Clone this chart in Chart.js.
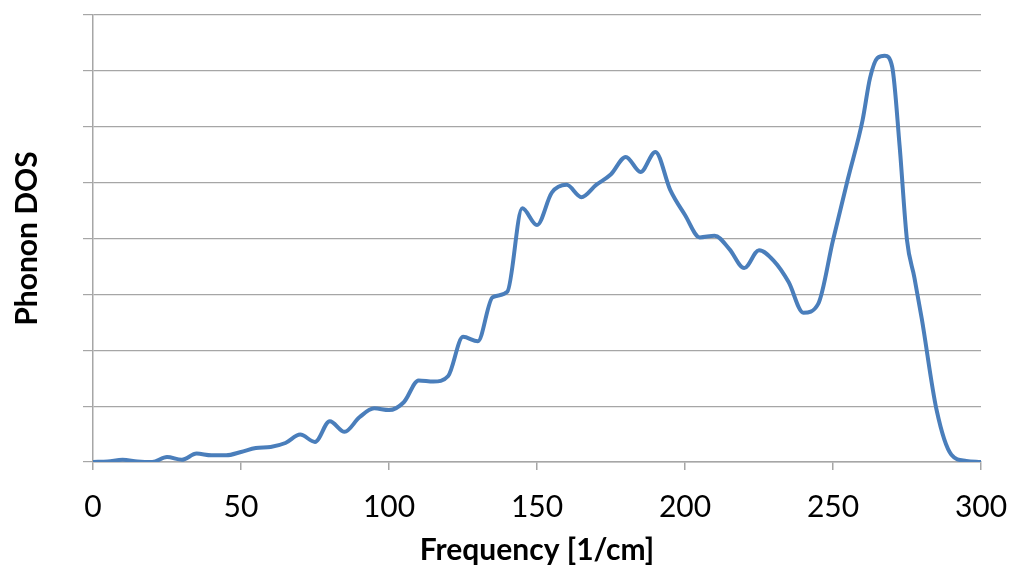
<!DOCTYPE html>
<html>
<head>
<meta charset="utf-8">
<script src="https://cdn.jsdelivr.net/npm/chart.js@4"></script>
<style>
  html, body { margin: 0; padding: 0; background: #fff; }
  #wrap { width: 1011px; height: 572px; }
</style>
</head>
<body>
<div id="wrap"><canvas id="dosChart" width="1011" height="572"></canvas></div>
<script>
'use strict'

// frequency [1/cm] and phonon DOS (arb. units, one unit per grid line)
const freq = [0, 5, 10, 15, 20, 25, 30, 35, 40, 45, 50, 55, 60, 65, 70, 75, 80, 85, 90, 95,
  100, 105, 110, 115, 120, 125, 130, 135, 140, 145, 150, 155, 160, 165, 170, 175, 180, 185, 190, 195,
  200, 205, 210, 215, 220, 225, 230, 235, 240, 245, 250, 255, 260, 262.5, 265, 267.5, 270, 272.5, 275, 277.5,
  280, 285, 290, 295, 300]
const dos = [0, 0.01, 0.04, 0.01, 0, 0.09, 0.04, 0.15, 0.12, 0.12, 0.18, 0.25, 0.27, 0.34, 0.49, 0.36, 0.73, 0.54, 0.8, 0.96,
  0.93, 1.07, 1.46, 1.44, 1.54, 2.24, 2.16, 2.95, 3.05, 4.54, 4.24, 4.82, 4.96, 4.74, 4.96, 5.15, 5.46, 5.19, 5.55, 4.87,
  4.42, 4.02, 4.05, 3.81, 3.47, 3.79, 3.6, 3.22, 2.67, 2.83, 3.97, 5.06, 6.12, 6.87, 7.23, 7.27, 7.07, 5.66, 3.97, 3.3,
  2.56, 0.93, 0.13, 0.02, 0]
const xTicks = [0, 50, 100, 150, 200, 250, 300]

const points = freq.map((f, i) => ({ x: f, y: dos[i] }))
const gridGrey = '#a6a6a6'

const ctx = document.getElementById('dosChart').getContext('2d')
const chart = new Chart(ctx, {
  type: 'line',
  data: {
    datasets: [{
      label: 'Phonon DOS',
      data: points,
      borderColor: '#4a7ebb',
      borderWidth: 4,
      pointRadius: 0,
      fill: false,
      cubicInterpolationMode: 'monotone'
    }]
  },
  options: {
    responsive: false,
    animation: false,
    layout: { padding: { left: 0, right: 30, top: 15, bottom: 4 } },
    plugins: { legend: { display: false }, tooltip: { enabled: false } },
    scales: {
      x: {
        type: 'linear',
        min: 0,
        max: 300,
        afterBuildTicks: (axis) => { axis.ticks = xTicks.map(v => ({ value: v })) },
        afterFit: (axis) => {
          axis.height = 106
          axis.paddingLeft = 0
          axis.paddingRight = 0
        },
        grid: { drawOnChartArea: false, drawTicks: true, tickLength: 8, color: gridGrey, lineWidth: 1.5 },
        border: { color: gridGrey, width: 1.5 },
        ticks: { color: '#000', font: { family: 'Lato', size: 30 }, padding: 19, maxRotation: 0 },
        title: { display: true, text: 'Frequency [1/cm]', color: '#000', font: { family: 'Lato', size: 30, weight: 'bold' }, padding: { top: 0, bottom: 0 } }
      },
      y: {
        min: 0,
        max: 8,
        ticks: { stepSize: 1, callback: () => '', padding: 0 },
        afterFit: (axis) => { axis.width = 93 },
        grid: { color: gridGrey, lineWidth: 1.2, tickLength: 10 },
        border: { color: gridGrey, width: 1.5 },
        title: { display: true, text: 'Phonon DOS', color: '#000', font: { family: 'Lato', size: 30, weight: 'bold' }, padding: { top: 9, bottom: 0 } }
      }
    }
  }
})
</script>
</body>
</html>
